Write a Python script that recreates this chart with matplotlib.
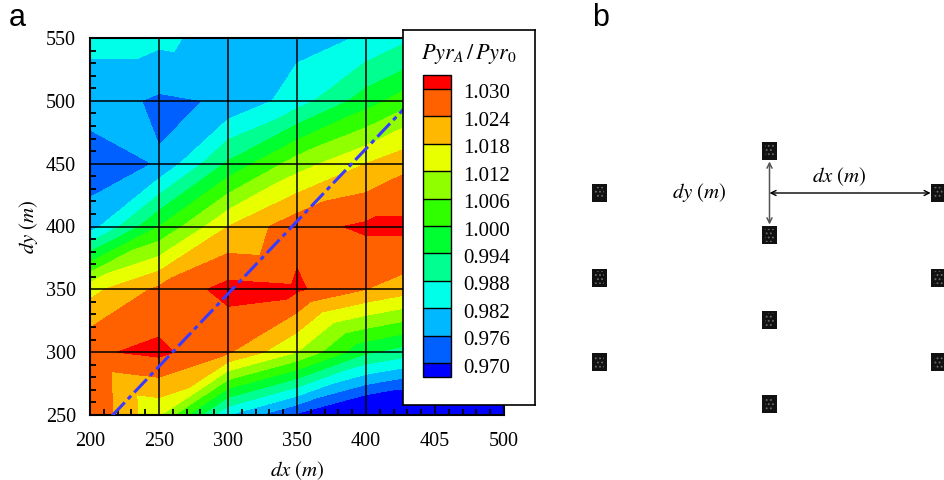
import numpy as np
import matplotlib
matplotlib.use('Agg')
import matplotlib.pyplot as plt
import matplotlib.tri as mtri
from matplotlib.patches import Rectangle
from matplotlib.transforms import blended_transform_factory, ScaledTranslation
from matplotlib.ticker import MultipleLocator

plt.rcParams['font.family'] = ['Liberation Serif', 'DejaVu Serif']
plt.rcParams['mathtext.fontset'] = 'stix'
plt.rcParams['hatch.linewidth'] = 0.8

# ---------------- data ----------------
dx_vals = [200, 250, 300, 350, 400, 450, 500]
dy_vals = [250, 300, 350, 400, 450, 500, 550]
# PyrA/Pyr0 at grid nodes, rows = dy (250 -> 550), cols = dx (200 -> 500)
ratio_250 = [1.0295, 1.0128, 0.982, 0.969, 0.958, 0.955, 0.955]
ratio_300 = [1.029, 1.0315, 1.0246, 1.012, 0.995, 0.988, 0.982]
ratio_350 = [1.016, 1.0253, 1.032, 1.031, 1.024, 1.018, 1.012]
ratio_400 = [0.979, 1.000, 1.018, 1.028, 1.031, 1.031, 1.030]
ratio_450 = [0.9725, 0.9764, 0.995, 1.009, 1.018, 1.025, 1.028]
ratio_500 = [0.979, 0.975, 0.9766, 0.985, 0.997, 1.008, 1.016]
ratio_550 = [0.9835, 0.9835, 0.979, 0.980, 0.9825, 0.990, 0.998]
ratio_rows = [ratio_250, ratio_300, ratio_350, ratio_400, ratio_450, ratio_500, ratio_550]
# cell split direction (1: bottom-left/top-right diagonal, 0: top-left/bottom-right)
cell_flip = [
    [0, 1, 1, 1, 1, 1],
    [1, 0, 1, 0, 1, 1],
    [1, 1, 0, 0, 1, 1],
    [1, 1, 1, 1, 1, 1],
    [0, 1, 1, 1, 1, 1],
    [1, 0, 1, 1, 1, 1],
]
levels = [0.970, 0.976, 0.982, 0.988, 0.994, 1.000, 1.006, 1.012, 1.018, 1.024, 1.030]
level_labels = ['0.970', '0.976', '0.982', '0.988', '0.994', '1.000',
                '1.006', '1.012', '1.018', '1.024', '1.030']
colors = ['#0000FF', '#0060FF', '#00B8FF', '#00FFE8', '#00FF90', '#00FF30',
          '#30FF00', '#90FF00', '#E8FF00', '#FFB800', '#FF6000', '#FF0000']
xticks = [200, 250, 300, 350, 400, 450, 500]
xtick_labels = ['200', '250', '300', '350', '400', '405', '500']
yticks = [250, 300, 350, 400, 450, 500, 550]
ytick_labels = ['250', '300', '350', '400', '450', '500', '550']
line_dx = [200, 500]
equilateral_factor = 2 / np.sqrt(3)

# schematic wells (column in dx units, row in dy units)
well_col = [0, 0, 0, 1, 1, 1, 1, 2, 2, 2]
well_row = [0, 1, 2, -0.5, 0.5, 1.5, 2.5, 0, 1, 2]

# ---------------- figure ----------------
W, H = 945, 480
fig = plt.figure(figsize=(W / 100, H / 100), dpi=100)

def fr(x0, y0, x1, y1):
    return [x0 / W, 1 - y1 / H, (x1 - x0) / W, (y1 - y0) / H]

ax = fig.add_axes(fr(90, 38, 504, 415))

X, Y = np.meshgrid(dx_vals, dy_vals)
Z = np.array(ratio_rows)
nx = len(dx_vals)
tris = []
for j in range(len(dy_vals) - 1):
    for i in range(nx - 1):
        bl = j * nx + i
        br = bl + 1
        tl = bl + nx
        tr = tl + 1
        if cell_flip[j][i]:
            tris += [(bl, br, tr), (bl, tr, tl)]
        else:
            tris += [(bl, br, tl), (tl, br, tr)]
triang = mtri.Triangulation(X.ravel(), Y.ravel(), np.array(tris))
cf = ax.tricontourf(triang, Z.ravel(), levels=levels, colors=colors, extend='both',
                    antialiased=False)

ld = np.array(line_dx, dtype=float)
ax.plot(ld, ld * equilateral_factor, color='#3a3aff', lw=2.2, ls=(0, (6, 1.5, 1.5, 1.5)),
        zorder=5)

ax.set_xlim(200, 500)
ax.set_ylim(250, 550)
ax.set_xticks(xticks, labels=xtick_labels)
ax.set_yticks(yticks, labels=ytick_labels)
ax.xaxis.set_minor_locator(MultipleLocator(10))
ax.yaxis.set_minor_locator(MultipleLocator(10))
ax.tick_params(which='both', direction='in', labelsize=14.5, color='black')
ax.tick_params(which='major', length=0, pad=10)
ax.tick_params(which='minor', length=4.5, width=1.3)
ax.tick_params(axis='x', which='major', pad=12)
ax.grid(True, which='major', color='black', lw=1.1, zorder=3)
ax.set_axisbelow(False)
for s in ax.spines.values():
    s.set_linewidth(1.5)
ax.set_xlabel(r'$dx\ (m)$', fontsize=15, labelpad=6)
ax.set_ylabel(r'$dy\ (m)$', fontsize=15, labelpad=4)

# legend box
legax = fig.add_axes(fr(403, 30, 535, 405))
legax.set_xticks([])
legax.set_yticks([])
legax.set_facecolor('white')
for s in legax.spines.values():
    s.set_linewidth(1.2)
legax.text(0.5, 0.935, r'$Pyr_A\,/\,Pyr_0$', transform=legax.transAxes,
           ha='center', va='center', fontsize=16)

cax = fig.add_axes(fr(423, 75, 451, 377))
cb = fig.colorbar(cf, cax=cax, extendrect=True, extendfrac=0.05, drawedges=True)
cb.outline.set_linewidth(1.0)
cb.dividers.set_linewidth(1.0)
cb.set_ticks([])
cax.tick_params(length=0)
tr_lab = blended_transform_factory(cax.transAxes, cax.transData) + \
    ScaledTranslation(0, -0.05, fig.dpi_scale_trans)
for lv, lab in zip(levels, level_labels):
    cax.text(1.42, lv, lab, transform=tr_lab, ha='left', va='center', fontsize=15)

# panel b schematic
bx = fig.add_axes(fr(560, 60, 945, 440))
bx.set_axis_off()
ux, uy = 169.5, 84.5  # pixels per dx / dy unit
x0p, y0p = 600, 193
bx.set_xlim((560 - x0p) / ux, (945 - x0p) / ux)
bx.set_ylim((440 - y0p) / uy, (60 - y0p) / uy)
sw, sh = 15 / ux, 18 / uy
for c, r in zip(well_col, well_row):
    bx.add_patch(Rectangle((c - sw / 2, r - sh / 2), sw, sh, facecolor='#111111',
                           edgecolor='none', clip_on=False))
    bx.add_patch(Rectangle((c - sw / 2 + sw * 0.2, r - sh / 2 + sh * 0.15), sw * 0.6, sh * 0.7,
                           facecolor='none', edgecolor='#6a6a6a', hatch='....', lw=0,
                           clip_on=False))
mid_c = well_col[3]
top_r = well_row[3]
bx.annotate('', xy=(mid_c, top_r + sh / 2 + 0.02), xytext=(mid_c, well_row[4] - sh / 2 - 0.02),
            arrowprops=dict(arrowstyle='<->', color='#555555', lw=1.1, mutation_scale=9,
                            shrinkA=0, shrinkB=0))
bx.annotate('', xy=(mid_c, well_row[0]), xytext=(well_col[7] - sw / 2 - 0.005, well_row[0]),
            arrowprops=dict(arrowstyle='<->', color='black', lw=1.0, mutation_scale=9,
                            shrinkA=0, shrinkB=0))
bx.text(0.585, 0.0, r'$dy\ (m)$', ha='center', va='center', fontsize=15)
bx.text(1.41, -0.19, r'$dx\ (m)$', ha='center', va='center', fontsize=15)

fig.text(17 / W, 1 - 18 / H, 'a', fontsize=22, family='Liberation Sans', ha='center', va='center')
fig.text(601 / W, 1 - 18 / H, 'b', fontsize=22, family='Liberation Sans', ha='center', va='center')

fig.savefig('out.png', dpi=100)
